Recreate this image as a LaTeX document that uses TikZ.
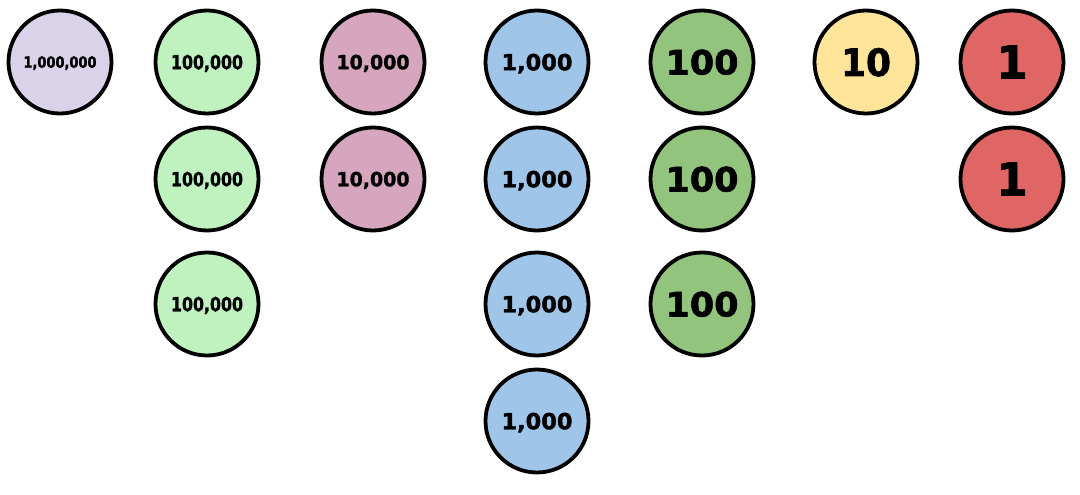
\documentclass[tikz,border=0pt]{standalone}
\usepackage{fontspec}
\setmainfont{DejaVu Sans}[BoldFeatures={FakeBold=1.6}]
\usepackage{graphicx}
\definecolor{cmil}{HTML}{D9D2E9}
\definecolor{chth}{HTML}{BFF2BF}
\definecolor{ctth}{HTML}{D5A6BD}
\definecolor{cth}{HTML}{9FC5E8}
\definecolor{chun}{HTML}{93C47D}
\definecolor{cten}{HTML}{FFE599}
\definecolor{cone}{HTML}{E06666}
\begin{document}
\begin{tikzpicture}[x=1pt,y=-1pt,
  coin/.style={circle,draw=black,line width=3.8pt,minimum size=103pt,inner sep=0pt},
  lbl/.style={anchor=base,inner sep=0pt,outer sep=0pt,text=black}]
\useasboundingbox (0,0) rectangle (1080,495);
% coin macro: name, x, y, colour, label width, label height, text
\newcommand{\coinlab}[7]{%
  \node[coin,fill=#4] (#1) at (#2,#3) {};
  \node[lbl] (#1t) at ([yshift=-#6/2*1pt]#1.center) {\resizebox{#5pt}{#6pt}{\bfseries #7}};
}
\coinlab{m1}{60}{62}{cmil}{73}{11.5}{1,000,000}
\coinlab{ht1}{207}{62}{chth}{72}{14.5}{100,000}
\coinlab{ht2}{207}{179}{chth}{72}{14.5}{100,000}
\coinlab{ht3}{207}{304}{chth}{72}{14.5}{100,000}
\coinlab{tt1}{373}{62}{ctth}{73}{14.5}{10,000}
\coinlab{tt2}{373}{179}{ctth}{73}{14.5}{10,000}
\coinlab{th1}{537}{62}{cth}{71}{16.5}{1,000}
\coinlab{th2}{537}{179}{cth}{71}{16.5}{1,000}
\coinlab{th3}{537}{304}{cth}{71}{16.5}{1,000}
\coinlab{th4}{537}{421}{cth}{71}{16.5}{1,000}
\coinlab{h1}{702}{62}{chun}{73}{25}{100}
\coinlab{h2}{702}{179}{chun}{73}{25}{100}
\coinlab{h3}{702}{304}{chun}{73}{25}{100}
\coinlab{t1}{866}{62}{cten}{50}{28}{10}
\node[coin,fill=cone] (o1) at (1012,62) {};
\node[lbl] (o1t) at ([yshift=-16.5pt]o1.center) {\resizebox{!}{33pt}{\bfseries 1}};
\node[coin,fill=cone] (o2) at (1012,179) {};
\node[lbl] (o2t) at ([yshift=-16.5pt]o2.center) {\resizebox{!}{33pt}{\bfseries 1}};
\end{tikzpicture}
\end{document}
